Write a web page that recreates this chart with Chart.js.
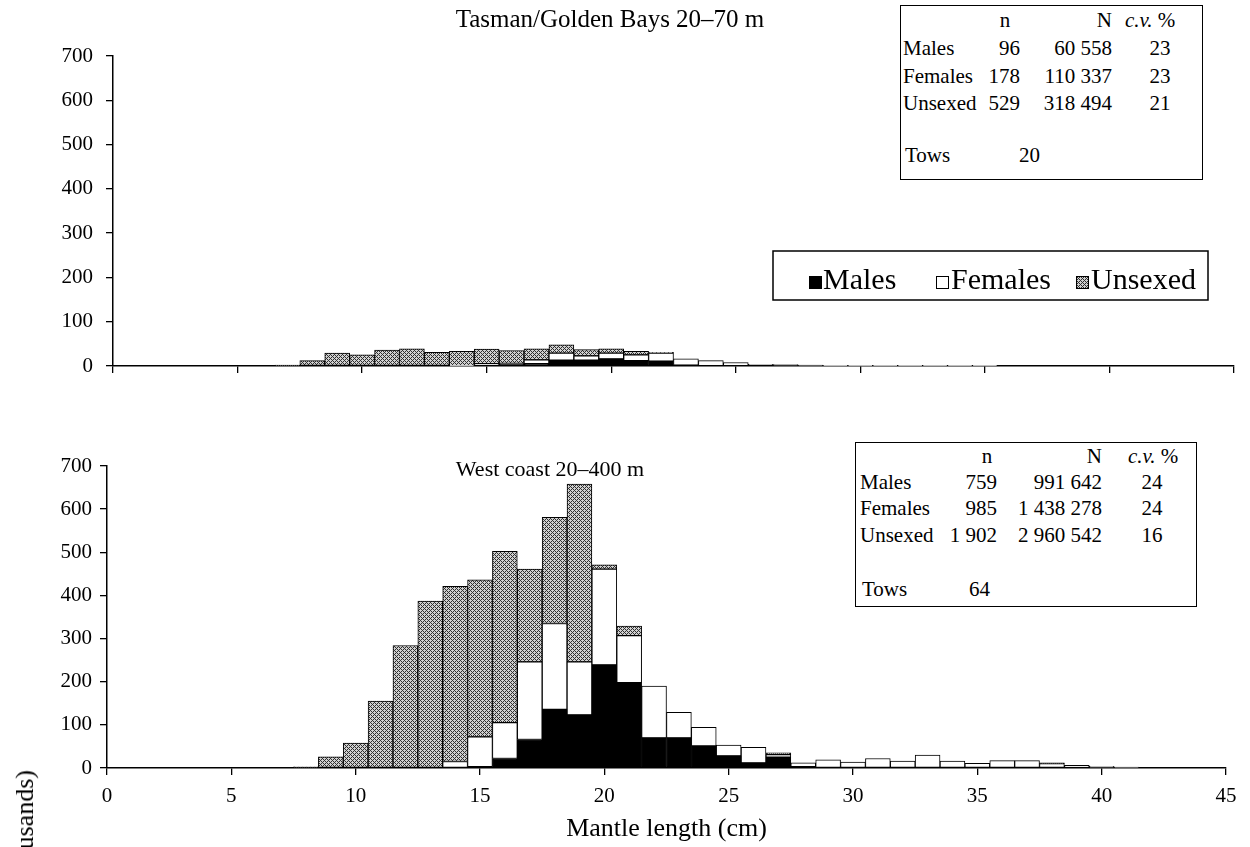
<!DOCTYPE html>
<html>
<head>
<meta charset="utf-8">
<script src="https://cdn.jsdelivr.net/npm/chart.js@4.4.1/dist/chart.umd.min.js"></script>
<style>
  html, body { margin: 0; padding: 0; background: #fff; }
  body { width: 1250px; height: 847px; position: relative; overflow: hidden;
         font-family: 'Liberation Serif', 'Times New Roman', serif; color: #000; }
  canvas { position: absolute; left: 0; }
  #topChart { top: 0; }
  #botChart { top: 420px; }
  .title { position: absolute; font-size: 25px; white-space: nowrap; transform: translate(-50%, -50%); }
  .stats { position: absolute; border: 1.5px solid #000; background: #fff; box-sizing: border-box; }
  .cell { position: absolute; font-size: 21px; line-height: 1; white-space: nowrap; transform: translateY(-50%); }
  .ylab { position: absolute; left: 10px; top: 770px; font-size: 26px; line-height: 30px;
          writing-mode: vertical-rl; transform: rotate(180deg); white-space: nowrap; }
</style>
</head>
<body>
<canvas id="topChart" width="1250" height="420"></canvas>
<canvas id="botChart" width="1250" height="427"></canvas>
<div class="title" style="left:610px; top:19px;">Tasman/Golden Bays 20–70 m</div>
<div class="title" style="left:550px; top:469px; font-size:22px;">West coast 20–400 m</div>
<div class="ylab">usands)</div>
<script>
// --- length classes (cm) ---
const bins = [0,1,2,3,4,5,6,7,8,9,10,11,12,13,14,15,16,17,18,19,20,21,22,23,24,25,26,27,28,29,30,31,32,33,34,35,36,37,38,39,40,41,42,43,44,45];

// Tasman/Golden Bays 20-70 m (thousands)
const tasmanMales    = [0,0,0,0,0,0,0,0,0,0,0,0,0,0,0,2,3,5,13,13,16,12,11,2,1,1,0,0,0,0,0,0,0,0,0,0,0,0,0,0,0,0,0,0,0,0];
const tasmanFemales  = [0,0,0,0,0,0,0,0,0,0,0,0,0,0,1,3,3,9,16,10,13,13,18,14,11,7,4,3,2,1,1,1,1,1,1,1,0,0,0,0,0,0,0,0,0,0];
const tasmanUnsexed  = [0,0,0,0,0,0,0,2,12,29,25,36,39,31,32,33,29,25,19,14,10,8,2,0,0,0,0,0,0,0,0,0,0,0,0,0,0,0,0,0,0,0,0,0,0,0];

// West coast 20-400 m (thousands)
const westMales      = [0,0,0,0,0,0,0,0,0,0,0,0,0,0,0,3,22,66,136,123,239,198,70,70,51,28,12,25,3,0,0,0,0,0,0,0,0,0,0,0,0,0,0,0,0,0];
const westFemales    = [0,0,0,0,0,0,0,0,0,0,0,0,0,0,15,69,83,180,199,123,222,109,120,59,43,25,36,6,9,19,14,22,16,30,16,11,17,17,10,6,4,2,0,0,0,0];
const westUnsexed    = [0,0,0,0,0,0,0,0,3,26,58,155,284,387,406,364,397,215,246,412,10,22,0,0,0,0,0,4,0,0,0,0,0,0,0,0,0,0,2,0,0,0,0,0,0,0];

const seriesNames = ['Males', 'Females', 'Unsexed'];

// stats boxes
const statHeader = ['n', 'N', 'c.v. %'];
const tasmanStats = [['Males', '96', '60 558', '23'], ['Females', '178', '110 337', '23'], ['Unsexed', '529', '318 494', '21']];
const tasmanTows = '20';
const westStats = [['Males', '759', '991 642', '24'], ['Females', '985', '1 438 278', '24'], ['Unsexed', '1 902', '2 960 542', '16']];
const westTows = '64';

Chart.defaults.font.family = "'Liberation Serif', 'Times New Roman', serif";
Chart.defaults.color = '#000';

function makeHatch(canvasId) {
    const c = document.createElement('canvas');
    c.width = 4; c.height = 4;
    const g = c.getContext('2d');
    g.fillStyle = '#d0d0d0';
    g.fillRect(0, 0, 4, 4);
    g.fillStyle = '#303030';
    [[0,0],[1,1],[2,2],[3,3],[1,3],[3,1]].forEach(p => g.fillRect(p[0], p[1], 1, 1));
    return document.getElementById(canvasId).getContext('2d').createPattern(c, 'repeat');
}

function makeDatasets(m, f, u, hatch) {
    const fills = ['#000', '#fff', hatch];
    return [m, f, u].map((d, i) => ({
        label: seriesNames[i],
        data: d,
        backgroundColor: fills[i],
        borderColor: '#000',
        borderWidth: 1,
        borderSkipped: false,
        barPercentage: 1,
        categoryPercentage: 1
    }));
}

function makeOptions(cfg) {
    return {
        responsive: false,
        animation: false,
        events: [],
        layout: { padding: cfg.padding },
        plugins: { legend: { display: false }, tooltip: { enabled: false } },
        scales: {
            x: {
                type: 'linear', min: 0, max: 45, stacked: true, offset: false,
                afterFit: s => { s.height = cfg.xHeight; },
                grid: { drawOnChartArea: false, offset: false, color: '#000', tickLength: 7, lineWidth: 1.3 },
                border: { color: '#000', width: 1.5 },
                ticks: { stepSize: 5, display: cfg.xLabels, padding: 9, maxRotation: 0, font: { size: 21 } },
                title: { display: !!cfg.xTitle, text: cfg.xTitle || '', font: { size: 26 }, padding: { top: 0, bottom: 2 } }
            },
            y: {
                min: 0, max: 700, stacked: true,
                afterFit: s => { s.width = cfg.yWidth; },
                grid: { drawOnChartArea: false, color: '#000', tickLength: 7, lineWidth: 1.3 },
                border: { color: '#000', width: 1.5 },
                ticks: { stepSize: 100, padding: cfg.yPad, font: { size: 21 } }
            }
        }
    };
}

// legend box drawn on the top chart
const boxLegend = {
    id: 'boxLegend',
    afterDraw(chart) {
        const ctx = chart.ctx;
        const sq = [809, 936, 1076];
        const tx = [823, 951, 1091];
        ctx.save();
        ctx.fillStyle = '#fff';
        ctx.fillRect(773, 251, 435, 49);
        ctx.strokeStyle = '#000';
        ctx.lineWidth = 1.5;
        ctx.strokeRect(773, 251, 435, 49);
        ctx.font = "30px 'Liberation Serif', 'Times New Roman', serif";
        ctx.textBaseline = 'alphabetic';
        chart.data.datasets.forEach((ds, i) => {
            ctx.fillStyle = ds.backgroundColor;
            ctx.fillRect(sq[i], 276, 13, 13);
            ctx.lineWidth = 1;
            ctx.strokeRect(sq[i] + 0.5, 276.5, 12, 12);
            ctx.fillStyle = '#000';
            ctx.fillText(ds.label, tx[i], 289);
        });
        ctx.restore();
    }
};

new Chart(document.getElementById('topChart'), {
    type: 'bar',
    data: { labels: bins, datasets: makeDatasets(tasmanMales, tasmanFemales, tasmanUnsexed, makeHatch('topChart')) },
    options: makeOptions({ padding: { left: 0, top: 56, right: 16, bottom: 34 }, xHeight: 20, yWidth: 113, yPad: 13, xLabels: false }),
    plugins: [boxLegend]
});

new Chart(document.getElementById('botChart'), {
    type: 'bar',
    data: { labels: bins, datasets: makeDatasets(westMales, westFemales, westUnsexed, makeHatch('botChart')) },
    options: makeOptions({ padding: { left: 0, top: 46, right: 24, bottom: 0 }, xHeight: 79, yWidth: 107, yPad: 8, xLabels: true, xTitle: 'Mantle length (cm)' })
});

// stats boxes (HTML overlay)
function addCell(text, x, y, align, html) {
    const d = document.createElement('div');
    d.className = 'cell';
    if (html) d.innerHTML = text; else d.textContent = text;
    d.style.top = y + 'px';
    if (align === 'right') d.style.right = (1250 - x) + 'px';
    else if (align === 'center') { d.style.left = x + 'px'; d.style.transform = 'translate(-50%, -50%)'; }
    else d.style.left = x + 'px';
    document.body.appendChild(d);
}

function addStats(stats, tows, lay) {
    const box = document.createElement('div');
    box.className = 'stats';
    box.style.left = lay.box[0] + 'px';
    box.style.top = lay.box[1] + 'px';
    box.style.width = (lay.box[2] - lay.box[0]) + 'px';
    box.style.height = (lay.box[3] - lay.box[1]) + 'px';
    document.body.appendChild(box);
    addCell(statHeader[0], lay.nHead, lay.rows[0], 'center');
    addCell(statHeader[1], lay.bigN, lay.rows[0], 'right');
    addCell('<i>c.v.</i> %', lay.cvHead, lay.rows[0], 'left', true);
    stats.forEach((r, i) => {
        const y = lay.rows[i + 1];
        addCell(r[0], lay.label, y, 'left');
        addCell(r[1], lay.n, y, 'right');
        addCell(r[2], lay.bigN, y, 'right');
        addCell(r[3], lay.cv, y, 'center');
    });
    addCell('Tows', lay.label + 2, lay.rows[4], 'left');
    addCell(tows, lay.tows, lay.rows[4], 'right');
}

addStats(tasmanStats, tasmanTows, { box: [900, 5, 1203, 180], rows: [20, 48, 76, 103, 155],
    label: 903, nHead: 1005, n: 1020, bigN: 1112, cvHead: 1125, cv: 1160, tows: 1040 });
addStats(westStats, westTows, { box: [855, 442, 1197, 607], rows: [456, 482, 508, 535, 589],
    label: 860, nHead: 987, n: 997, bigN: 1102, cvHead: 1128, cv: 1152, tows: 990 });
</script>
</body>
</html>
